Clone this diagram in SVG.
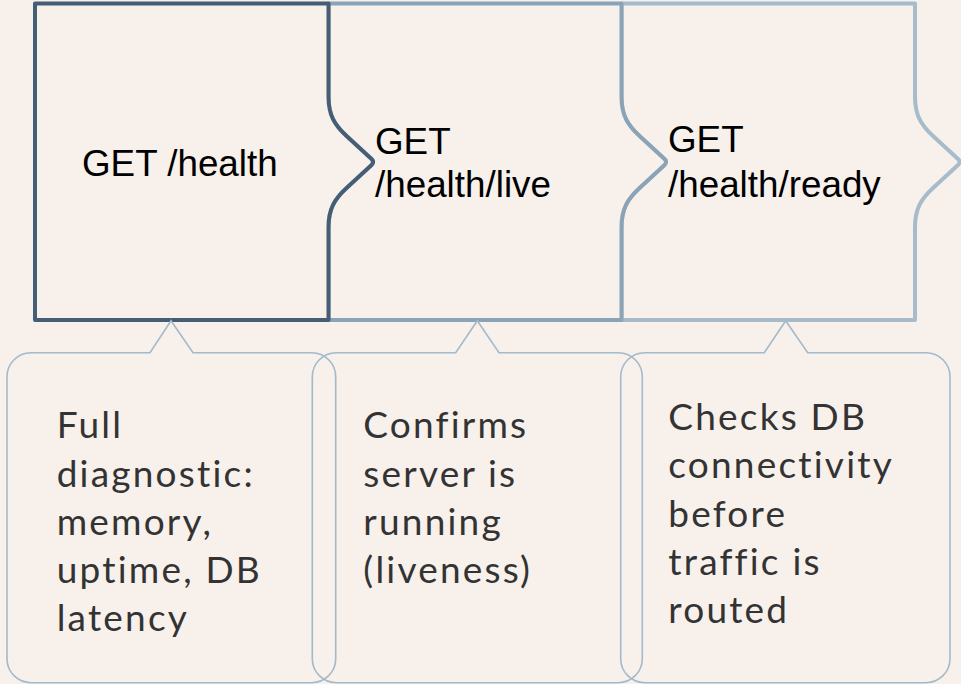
<svg xmlns="http://www.w3.org/2000/svg" width="961" height="684" viewBox="0 0 961 684">
  <style>
    .bg { fill: #f7f0eb; }
    .step { fill: #f7f0eb; stroke-width: 4; stroke-linejoin: round; }
    .s1 { stroke: #465e75; }
    .s2 { stroke: #8aa3b6; }
    .s3 { stroke: #a7bccb; }
    .title { font-family: "Liberation Sans", Arial, sans-serif; font-size: 36.8px; fill: #000; }
    .callout { fill: none; stroke: #a3bacb; stroke-width: 1.6; stroke-linejoin: miter; }
    .desc { font-family: Lato, "Open Sans", sans-serif; font-weight: 400; font-size: 37px; letter-spacing: 2.2px; fill: #333; }
  </style>
  <rect class="bg" x="0" y="0" width="961" height="684"/>

  <g id="step3">
    <path class="step s3" d="M621.5,3.5 L915,3.5 L915,97 C915,115 921,125 933,136 L958,159 Q961,162 958,165 L933,188 C921,199 915,209 915,227 L915,320 L621.5,320 L621.5,227 C621.5,209 627.5,199 639.5,188 L664.5,165 Q667.5,162 664.5,159 L639.5,136 C627.5,125 621.5,115 621.5,97 Z"/>
    <text class="title" x="668" y="152">GET</text>
    <text class="title" x="668" y="196.5">/health/ready</text>
  </g>

  <g id="step2">
    <path class="step s2" d="M328.5,3.5 L621.5,3.5 L621.5,97 C621.5,115 627.5,125 639.5,136 L664.5,159 Q667.5,162 664.5,165 L639.5,188 C627.5,199 621.5,209 621.5,227 L621.5,320 L328.5,320 L328.5,227 C328.5,209 334.5,199 346.5,188 L371.5,165 Q374.5,162 371.5,159 L346.5,136 C334.5,125 328.5,115 328.5,97 Z"/>
    <text class="title" x="375" y="153.5">GET</text>
    <text class="title" x="375" y="197">/health/live</text>
  </g>

  <g id="step1">
    <path class="step s1" d="M35,3.5 L328.5,3.5 L328.5,97 C328.5,115 334.5,125 346.5,136 L371.5,159 Q374.5,162 371.5,165 L346.5,188 C334.5,199 328.5,209 328.5,227 L328.5,320 L35,320 Z"/>
    <text class="title" x="82" y="176">GET /health</text>
  </g>

  <g id="connectors">
    <path id="callout1" class="callout" d="M31,352.7 L150,352.7 L171,320.7 L193,352.7 L311.7,352.7 A24,24 0 0 1 335.7,376.7 L335.7,658.7 A24,24 0 0 1 311.7,682.7 L31,682.7 A24,24 0 0 1 7,658.7 L7,376.7 A24,24 0 0 1 31,352.7 Z"/>
    <path id="callout2" class="callout" d="M336.3,352.7 L455.7,352.7 L477.3,320.7 L499,352.7 L618.3,352.7 A24,24 0 0 1 642.3,376.7 L642.3,658.7 A24,24 0 0 1 618.3,682.7 L336.3,682.7 A24,24 0 0 1 312.3,658.7 L312.3,376.7 A24,24 0 0 1 336.3,352.7 Z"/>
    <path id="callout3" class="callout" d="M644.7,352.7 L764.3,352.7 L785.7,320.7 L807.7,352.7 L926,352.7 A24,24 0 0 1 950,376.7 L950,658.7 A24,24 0 0 1 926,682.7 L644.7,682.7 A24,24 0 0 1 620.7,658.7 L620.7,376.7 A24,24 0 0 1 644.7,352.7 Z"/>
  </g>

  <g id="desc1">
    <text class="desc" x="56.7" y="438.3">Full</text>
    <text class="desc" x="56.7" y="486.5">diagnostic:</text>
    <text class="desc" x="56.7" y="534.5">memory,</text>
    <text class="desc" x="56.7" y="582.7">uptime, DB</text>
    <text class="desc" x="56.7" y="631">latency</text>
  </g>
  <g id="desc2">
    <text class="desc" x="363.3" y="438.3">Confirms</text>
    <text class="desc" x="363.3" y="486.5">server is</text>
    <text class="desc" x="363.3" y="534.5">running</text>
    <text class="desc" x="363.3" y="582.7">(liveness)</text>
  </g>
  <g id="desc3">
    <text class="desc" x="668.3" y="430">Checks DB</text>
    <text class="desc" x="668.3" y="478.3">connectivity</text>
    <text class="desc" x="668.3" y="526.7">before</text>
    <text class="desc" x="668.3" y="575">traffic is</text>
    <text class="desc" x="668.3" y="623.3">routed</text>
  </g>
</svg>
